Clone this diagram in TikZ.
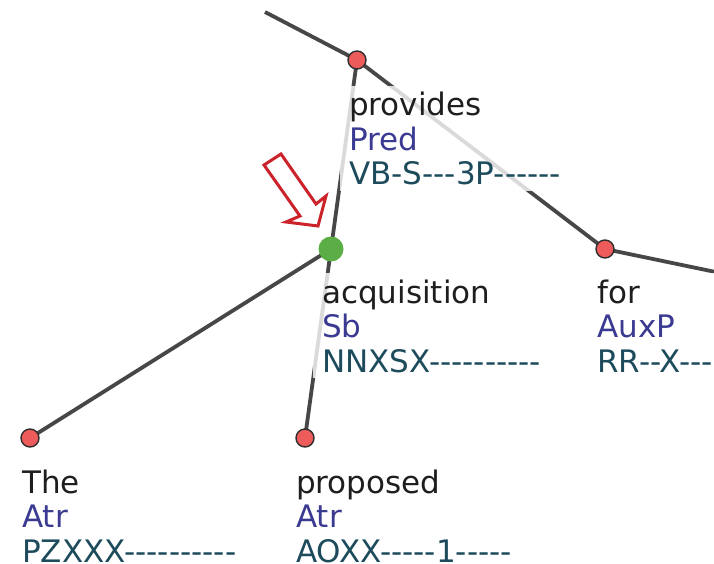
\documentclass[tikz,border=0pt]{standalone}
\usepackage{fontspec}
% plain family: no TeX ligatures, so "--" stays two hyphens
\newfontfamily\lblfont{DejaVu Sans}
\begin{document}
\begin{tikzpicture}[x=1pt,y=-1pt,
  edge/.style={draw=edgegray,line width=3.8pt},
  tnode/.style={circle,fill=nodered,draw=nodeline,line width=1.4pt,minimum size=18pt,inner sep=0pt},
  tsel/.style={circle,fill=selgreen,minimum size=25pt,inner sep=0pt},
  lbl/.style={anchor=base west,align=left,inner xsep=9pt,inner ysep=6pt,fill=white,fill opacity=0.8,text opacity=1,
    font=\lblfont\fontsize{31}{34.5}\selectfont},
  pointer/.style={draw=arrowred,line width=3pt,fill=white,line join=miter}]
\definecolor{edgegray}{HTML}{474747}
\definecolor{nodered}{HTML}{EE5B5B}
\definecolor{nodeline}{HTML}{2E2E2E}
\definecolor{selgreen}{HTML}{5BAD45}
\definecolor{arrowred}{HTML}{CC2229}
\definecolor{wordcol}{HTML}{1E1E1E}
\definecolor{afuncol}{HTML}{3A3A92}
\definecolor{tagcol}{HTML}{1D4B5C}
\useasboundingbox (0,0) rectangle (714,564);

% tree node positions
\coordinate (top) at (265,12);
\coordinate (right) at (730,275);
\coordinate (pP) at (357,60);
\coordinate (pA) at (331,249);
\coordinate (pF) at (605,249);
\coordinate (pT) at (30,438);
\coordinate (pO) at (305,438);

% edges
\draw[edge] (top) -- (pP) -- (pF) -- (right);
\draw[edge] (pP) -- (pA);
\draw[edge] (pA) -- (pT);
\draw[edge] (pA) -- (pO);

% labels: form, analytical function, tag (anchored at the last line's baseline)
\node[lbl] (lP) at (340,185) {\textcolor{wordcol}{provides}\\\textcolor{afuncol}{Pred}\\\textcolor{tagcol}{VB-S---3P------}};
\node[lbl] (lA) at (313,372) {\textcolor{wordcol}{acquisition}\\\textcolor{afuncol}{Sb}\\\textcolor{tagcol}{NNXSX----------}};
\node[lbl] (lF) at (588,372) {\textcolor{wordcol}{for}\\\textcolor{afuncol}{AuxP}\\\textcolor{tagcol}{RR--X----------}};
\node[lbl] (lT) at (13,562) {\textcolor{wordcol}{The}\\\textcolor{afuncol}{Atr}\\\textcolor{tagcol}{PZXXX----------}};
\node[lbl] (lO) at (287,562) {\textcolor{wordcol}{proposed}\\\textcolor{afuncol}{Atr}\\\textcolor{tagcol}{AOXX-----1-----}};

% node markers
\node[tnode] (nP) at (pP) {};
\node[tnode] (nF) at (pF) {};
\node[tnode] (nT) at (pT) {};
\node[tnode] (nO) at (pO) {};
\node[tsel] (nA) at (pA) {};

% hollow pointer arrow
\draw[pointer] (264,165) -- (281,154) -- (316,204) -- (326,196) -- (318,226) -- (286,222) -- (300,216) -- cycle;
\end{tikzpicture}
\end{document}
